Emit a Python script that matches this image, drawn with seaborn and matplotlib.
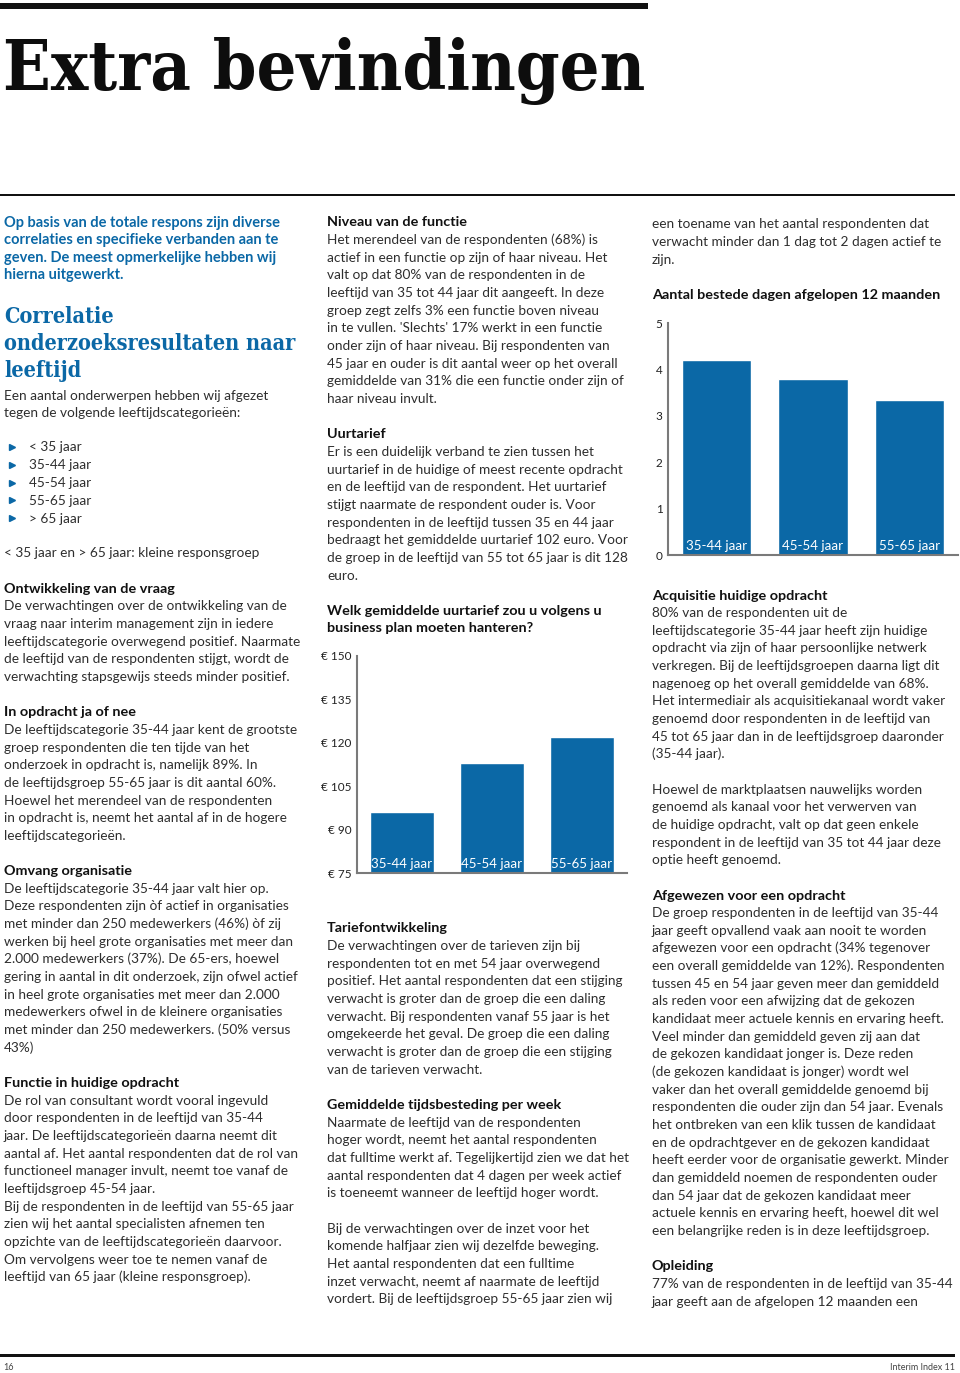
import matplotlib
matplotlib.use("Agg")
import matplotlib.pyplot as plt
from matplotlib.lines import Line2D
import seaborn as sns

W, H = 960, 1373

age_groups = ["35-44 jaar", "45-54 jaar", "55-65 jaar"]
uurtarief = [96, 113, 122]
uurtarief_ticks = [75, 90, 105, 120, 135, 150]
dagen = [4.2, 3.8, 3.35]
dagen_ticks = [0, 1, 2, 3, 4, 5]

bullets = ["< 35 jaar", "35-44 jaar", "45-54 jaar", "55-65 jaar", "> 65 jaar"]

intro = ["Op basis van de totale respons zijn diverse",
         "correlaties en specifieke verbanden aan te",
         "geven. De meest opmerkelijke hebben wij",
         "hierna uitgewerkt."]
heading = ["Correlatie", "onderzoeksresultaten naar", "leeftijd"]

# "*" = vetgedrukte kop, "" = lege regel
col1_a = ["Een aantal onderwerpen hebben wij afgezet",
          "tegen de volgende leeftijdscategorieën:"]
col1_b = ["< 35 jaar en > 65 jaar: kleine responsgroep", "",
          "*Ontwikkeling van de vraag",
          "De verwachtingen over de ontwikkeling van de",
          "vraag naar interim management zijn in iedere",
          "leeftijdscategorie overwegend positief. Naarmate",
          "de leeftijd van de respondenten stijgt, wordt de",
          "verwachting stapsgewijs steeds minder positief.", "",
          "*In opdracht ja of nee",
          "De leeftijdscategorie 35-44 jaar kent de grootste",
          "groep respondenten die ten tijde van het",
          "onderzoek in opdracht is, namelijk 89%. In",
          "de leeftijdsgroep 55-65 jaar is dit aantal 60%.",
          "Hoewel het merendeel van de respondenten",
          "in opdracht is, neemt het aantal af in de hogere",
          "leeftijdscategorieën.", "",
          "*Omvang organisatie",
          "De leeftijdscategorie 35-44 jaar valt hier op.",
          "Deze respondenten zijn òf actief in organisaties",
          "met minder dan 250 medewerkers (46%) òf zij",
          "werken bij heel grote organisaties met meer dan",
          "2.000 medewerkers (37%). De 65-ers, hoewel",
          "gering in aantal in dit onderzoek, zijn ofwel actief",
          "in heel grote organisaties met meer dan 2.000",
          "medewerkers ofwel in de kleinere organisaties",
          "met minder dan 250 medewerkers. (50% versus",
          "43%)", "",
          "*Functie in huidige opdracht",
          "De rol van consultant wordt vooral ingevuld",
          "door respondenten in de leeftijd van 35-44",
          "jaar. De leeftijdscategorieën daarna neemt dit",
          "aantal af. Het aantal respondenten dat de rol van",
          "functioneel manager invult, neemt toe vanaf de",
          "leeftijdsgroep 45-54 jaar.",
          "Bij de respondenten in de leeftijd van 55-65 jaar",
          "zien wij het aantal specialisten afnemen ten",
          "opzichte van de leeftijdscategorieën daarvoor.",
          "Om vervolgens weer toe te nemen vanaf de",
          "leeftijd van 65 jaar (kleine responsgroep)."]

col2_a = ["*Niveau van de functie",
          "Het merendeel van de respondenten (68%) is",
          "actief in een functie op zijn of haar niveau. Het",
          "valt op dat 80% van de respondenten in de",
          "leeftijd van 35 tot 44 jaar dit aangeeft. In deze",
          "groep zegt zelfs 3% een functie boven niveau",
          "in te vullen. 'Slechts' 17% werkt in een functie",
          "onder zijn of haar niveau. Bij respondenten van",
          "45 jaar en ouder is dit aantal weer op het overall",
          "gemiddelde van 31% die een functie onder zijn of",
          "haar niveau invult.", "",
          "*Uurtarief",
          "Er is een duidelijk verband te zien tussen het",
          "uurtarief in de huidige of meest recente opdracht",
          "en de leeftijd van de respondent. Het uurtarief",
          "stijgt naarmate de respondent ouder is. Voor",
          "respondenten in de leeftijd tussen 35 en 44 jaar",
          "bedraagt het gemiddelde uurtarief 102 euro. Voor",
          "de groep in de leeftijd van 55 tot 65 jaar is dit 128",
          "euro.", "",
          "*Welk gemiddelde uurtarief zou u volgens u",
          "*business plan moeten hanteren?"]
col2_b = ["*Tariefontwikkeling",
          "De verwachtingen over de tarieven zijn bij",
          "respondenten tot en met 54 jaar overwegend",
          "positief. Het aantal respondenten dat een stijging",
          "verwacht is groter dan de groep die een daling",
          "verwacht. Bij respondenten vanaf 55 jaar is het",
          "omgekeerde het geval. De groep die een daling",
          "verwacht is groter dan de groep die een stijging",
          "van de tarieven verwacht.", "",
          "*Gemiddelde tijdsbesteding per week",
          "Naarmate de leeftijd van de respondenten",
          "hoger wordt, neemt het aantal respondenten",
          "dat fulltime werkt af. Tegelijkertijd zien we dat het",
          "aantal respondenten dat 4 dagen per week actief",
          "is toeneemt wanneer de leeftijd hoger wordt.", "",
          "Bij de verwachtingen over de inzet voor het",
          "komende halfjaar zien wij dezelfde beweging.",
          "Het aantal respondenten dat een fulltime",
          "inzet verwacht, neemt af naarmate de leeftijd",
          "vordert. Bij de leeftijdsgroep 55-65 jaar zien wij"]

col3_a = ["een toename van het aantal respondenten dat",
          "verwacht minder dan 1 dag tot 2 dagen actief te",
          "zijn.", "",
          "*Aantal bestede dagen afgelopen 12 maanden"]
col3_b = ["*Acquisitie huidige opdracht",
          "80% van de respondenten uit de",
          "leeftijdscategorie 35-44 jaar heeft zijn huidige",
          "opdracht via zijn of haar persoonlijke netwerk",
          "verkregen. Bij de leeftijdsgroepen daarna ligt dit",
          "nagenoeg op het overall gemiddelde van 68%.",
          "Het intermediair als acquisitiekanaal wordt vaker",
          "genoemd door respondenten in de leeftijd van",
          "45 tot 65 jaar dan in de leeftijdsgroep daaronder",
          "(35-44 jaar).", "",
          "Hoewel de marktplaatsen nauwelijks worden",
          "genoemd als kanaal voor het verwerven van",
          "de huidige opdracht, valt op dat geen enkele",
          "respondent in de leeftijd van 35 tot 44 jaar deze",
          "optie heeft genoemd.", "",
          "*Afgewezen voor een opdracht",
          "De groep respondenten in de leeftijd van 35-44",
          "jaar geeft opvallend vaak aan nooit te worden",
          "afgewezen voor een opdracht (34% tegenover",
          "een overall gemiddelde van 12%). Respondenten",
          "tussen 45 en 54 jaar geven meer dan gemiddeld",
          "als reden voor een afwijzing dat de gekozen",
          "kandidaat meer actuele kennis en ervaring heeft.",
          "Veel minder dan gemiddeld geven zij aan dat",
          "de gekozen kandidaat jonger is. Deze reden",
          "(de gekozen kandidaat is jonger) wordt wel",
          "vaker dan het overall gemiddelde genoemd bij",
          "respondenten die ouder zijn dan 54 jaar. Evenals",
          "het ontbreken van een klik tussen de kandidaat",
          "en de opdrachtgever en de gekozen kandidaat",
          "heeft eerder voor de organisatie gewerkt. Minder",
          "dan gemiddeld noemen de respondenten ouder",
          "dan 54 jaar dat de gekozen kandidaat meer",
          "actuele kennis en ervaring heeft, hoewel dit wel",
          "een belangrijke reden is in deze leeftijdsgroep.", "",
          "*Opleiding",
          "77% van de respondenten in de leeftijd van 35-44",
          "jaar geeft aan de afgelopen 12 maanden een"]

sns.set_style("white")
plt.rcParams["font.family"] = ["Lato", "DejaVu Sans"]

BLUE = "#0b68a6"
TXT = "#2e2e2e"
BODY = 9.85
BOLD = 10.4
LH = 17.65
SLAB = ["DejaVu Serif Condensed", "DejaVu Serif"]

fig = plt.figure(figsize=(W / 100, H / 100), dpi=100)


def put(x, y, s, **kw):
    # y = middle of the line in pixels from the top
    fig.text(x / W, 1 - (y + 4.5) / H, s, va="baseline", **kw)


def column(x, y, lines):
    for i, s in enumerate(lines):
        if s.startswith("*"):
            put(x, y + i * LH, s[1:], fontsize=BOLD, fontweight="bold", color="#111111")
        elif s:
            put(x, y + i * LH, s, fontsize=BODY, color=TXT)


def rule(x0, x1, y, h):
    fig.add_artist(plt.Rectangle((x0 / W, 1 - (y + h / 2) / H), (x1 - x0) / W, h / H,
                                 transform=fig.transFigure, color="#111111", lw=0))


# kop
rule(0, 648, 6, 6)
fig.text(3 / W, 1 - 90 / H, "Extra bevindingen", fontsize=50.2, fontweight="heavy",
         family=SLAB, fontstretch="condensed", color="#0d0d0d", va="baseline")
rule(0, 955, 195, 2)

# kolom 1
for i, s in enumerate(intro):
    put(4, 222 + i * LH, s, fontsize=10.5, fontweight="bold", color=BLUE)
for i, s in enumerate(heading):
    fig.text(4 / W, 1 - (315 + i * 27 + 8) / H, s, fontsize=15.6, fontweight="bold",
             family=SLAB, fontstretch="condensed", color=BLUE, va="baseline")
column(4, 395, col1_a)
for i, s in enumerate(bullets):
    y = 447 + i * 17.75
    fig.add_artist(Line2D([12 / W], [1 - y / H], marker=">", markersize=5, color=BLUE,
                          transform=fig.transFigure))
    put(29, y, s, fontsize=BODY, color=TXT)
column(4, 553, col1_b)

# kolom 2 en 3
column(327, 222, col2_a)
column(327, 928, col2_b)
column(652, 224, col3_a)
column(652, 595, col3_b)


def bars(rect, values, ticks, fmt):
    ax = fig.add_axes([rect[0] / W, 1 - rect[3] / H, (rect[2] - rect[0]) / W,
                       (rect[3] - rect[1]) / H])
    sns.barplot(x=age_groups, y=values, color=BLUE, saturation=1, width=0.72, ax=ax)
    ax.set_xlim(-0.5, 2.5)
    ax.set_ylim(ticks[0], ticks[-1])
    ax.set_yticks(ticks)
    ax.set_yticklabels([fmt.format(t) for t in ticks], fontsize=8.5, color="#222222")
    ax.set_xticks([])
    ax.tick_params(axis="y", length=0, pad=4)
    sns.despine(ax=ax)
    for side in ["left", "bottom"]:
        ax.spines[side].set_color("#7a7a7a")
        ax.spines[side].set_linewidth(1.5)
    for i, g in enumerate(age_groups):
        ax.text(i, 0.015, g, transform=ax.get_xaxis_transform(), ha="center", va="bottom",
                color="white", fontsize=9.6)
    return ax


bars((357, 656, 627, 873), uurtarief, uurtarief_ticks, "€ {}")
bars((668, 323, 958, 555), dagen, dagen_ticks, "{}")

# voet
rule(0, 955, 1355, 3)
put(3, 1365, "16", fontsize=6.5, color="#444444")
put(955, 1365, "Interim Index 11", fontsize=6.5, color="#444444", ha="right")

fig.savefig("out.png", dpi=100)
